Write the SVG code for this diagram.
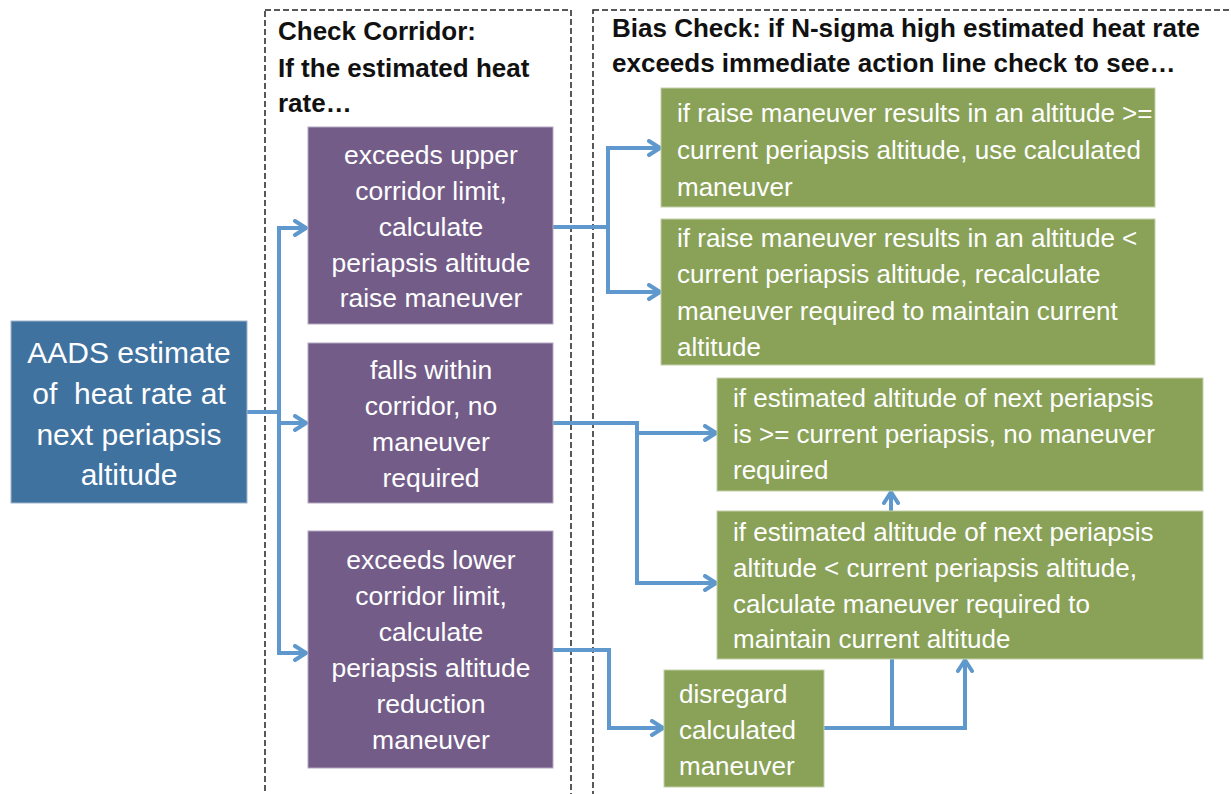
<svg xmlns="http://www.w3.org/2000/svg" width="1231" height="794" viewBox="0 0 1231 794">
  <style>
    .lane { fill: none; stroke: #222; stroke-width: 1.5; stroke-dasharray: 6 3; }
    .hdr { font-family: "Liberation Sans", Arial, sans-serif; font-weight: bold; font-size: 26px; fill: #111; }
    .blue { fill: #40729F; stroke: #9fb6cc; stroke-width: 1; }
    .purple { fill: #735C88; stroke: #b3a7c2; stroke-width: 1; }
    .green { fill: #89A258; stroke: #c3d0a9; stroke-width: 1; }
    .t { font-family: "Liberation Sans", Arial, sans-serif; fill: #ffffff; }
    .tb { font-size: 30px; text-anchor: middle; }
    .tp { font-size: 26.5px; text-anchor: middle; }
    .tg { font-size: 26px; }
    .conn { fill: none; stroke: #5E98CC; stroke-width: 4; stroke-linejoin: miter; }
  </style>
  <defs>
    <marker id="arr" markerUnits="userSpaceOnUse" viewBox="0 0 16 18" markerWidth="16" markerHeight="18" refX="14" refY="9" orient="auto-start-reverse">
      <path d="M3,2 L14,9 L3,16" fill="none" stroke="#5E98CC" stroke-width="4" stroke-linecap="round" stroke-linejoin="round"/>
    </marker>
  </defs>

  <rect width="1231" height="794" fill="#ffffff"/>

  <g id="lane-corridor">
    <rect class="lane" x="265" y="10" width="306" height="800"/>
    <text class="hdr" x="278" y="40">Check Corridor:</text>
    <text class="hdr" x="278" y="77">If the estimated heat</text>
    <text class="hdr" x="278" y="112">rate…</text>
  </g>
  <g id="lane-bias">
    <rect class="lane" x="593" y="10" width="660" height="800"/>
    <text class="hdr" x="612" y="37">Bias Check: if N-sigma high estimated heat rate</text>
    <text class="hdr" x="612" y="72">exceeds immediate action line check to see…</text>
  </g>

  <g id="connectors">
    <path class="conn" d="M247,412 H279"/>
    <path class="conn" d="M306,228 H279 V653 H306" marker-start="url(#arr)" marker-end="url(#arr)"/>
    <path class="conn" d="M279,423 H306" marker-end="url(#arr)"/>
    <path class="conn" d="M553,227 H608"/>
    <path class="conn" d="M660,148 H608 V292 H660" marker-start="url(#arr)" marker-end="url(#arr)"/>
    <path class="conn" d="M553,423 H637 V583 H716" marker-end="url(#arr)"/>
    <path class="conn" d="M637,433 H716" marker-end="url(#arr)"/>
    <path class="conn" d="M553,650 H609 V728 H663" marker-end="url(#arr)"/>
    <path class="conn" d="M824,728 H965 V660" marker-end="url(#arr)"/>
    <path class="conn" d="M892,728 V659"/>
    <path class="conn" d="M891,511 V492" marker-end="url(#arr)"/>
  </g>

  <g id="n-aads">
    <rect class="blue" x="11" y="321" width="236" height="182"/>
    <text class="t tb" x="129" y="363">AADS estimate</text>
    <text class="t tb" x="129" y="404" xml:space="preserve">of  heat rate at</text>
    <text class="t tb" x="129" y="445">next periapsis</text>
    <text class="t tb" x="129" y="485">altitude</text>
  </g>

  <g id="n-upper">
    <rect class="purple" x="308" y="127" width="245" height="197"/>
    <text class="t tp" x="431" y="164">exceeds upper</text>
    <text class="t tp" x="431" y="200">corridor limit,</text>
    <text class="t tp" x="431" y="236">calculate</text>
    <text class="t tp" x="431" y="272">periapsis altitude</text>
    <text class="t tp" x="431" y="307">raise maneuver</text>
  </g>
  <g id="n-within">
    <rect class="purple" x="308" y="343" width="245" height="160"/>
    <text class="t tp" x="431" y="379">falls within</text>
    <text class="t tp" x="431" y="415">corridor, no</text>
    <text class="t tp" x="431" y="451">maneuver</text>
    <text class="t tp" x="431" y="487">required</text>
  </g>
  <g id="n-lower">
    <rect class="purple" x="308" y="531" width="245" height="237"/>
    <text class="t tp" x="431" y="569">exceeds lower</text>
    <text class="t tp" x="431" y="605">corridor limit,</text>
    <text class="t tp" x="431" y="641">calculate</text>
    <text class="t tp" x="431" y="677">periapsis altitude</text>
    <text class="t tp" x="431" y="713">reduction</text>
    <text class="t tp" x="431" y="749">maneuver</text>
  </g>

  <g id="n-raise-ok">
    <rect class="green" x="661" y="88" width="494" height="119"/>
    <text class="t tg" x="677" y="122">if raise maneuver results in an altitude &gt;=</text>
    <text class="t tg" x="677" y="159">current periapsis altitude, use calculated</text>
    <text class="t tg" x="677" y="196">maneuver</text>
  </g>
  <g id="n-raise-low">
    <rect class="green" x="661" y="219" width="494" height="146"/>
    <text class="t tg" x="677" y="247">if raise maneuver results in an altitude &lt;</text>
    <text class="t tg" x="677" y="283">current periapsis altitude, recalculate</text>
    <text class="t tg" x="677" y="320">maneuver required to maintain current</text>
    <text class="t tg" x="677" y="356">altitude</text>
  </g>
  <g id="n-next-ok">
    <rect class="green" x="717" y="378" width="486" height="113"/>
    <text class="t tg" x="733" y="407">if estimated altitude of next periapsis</text>
    <text class="t tg" x="733" y="443">is &gt;= current periapsis, no maneuver</text>
    <text class="t tg" x="733" y="479">required</text>
  </g>
  <g id="n-next-low">
    <rect class="green" x="717" y="511" width="486" height="148"/>
    <text class="t tg" x="733" y="541">if estimated altitude of next periapsis</text>
    <text class="t tg" x="733" y="577">altitude &lt; current periapsis altitude,</text>
    <text class="t tg" x="733" y="613">calculate maneuver required to</text>
    <text class="t tg" x="733" y="648">maintain current altitude</text>
  </g>
  <g id="n-disregard">
    <rect class="green" x="664" y="670" width="160" height="117"/>
    <text class="t tg" x="679" y="703">disregard</text>
    <text class="t tg" x="679" y="739">calculated</text>
    <text class="t tg" x="679" y="775">maneuver</text>
  </g>
</svg>
